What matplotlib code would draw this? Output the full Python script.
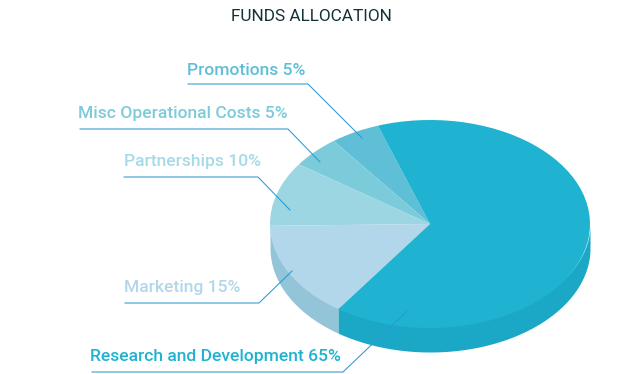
import numpy as np
import matplotlib
matplotlib.use('Agg')
from matplotlib import pyplot as plt

categories = ['Promotions', 'Misc Operational Costs', 'Partnerships', 'Marketing', 'Research and Development']
shares = [5, 5, 10, 15, 65]
top_colors = ['#5FBFD6', '#7CCBDB', '#9CD6E3', '#B2D7EA', '#1FB3D1']
side_colors = ['#4FA9BF', '#6AB3C4', '#86BDCB', '#94C4D8', '#1BA8C6']
text_colors = ['#5FBFD6', '#7CCBDB', '#A5DBE7', '#B2D7EA', '#1FB3D1']

# pie geometry in pixels
cx, cy, rx, ry, depth = 430, 224, 160, 104, 24
W, H = 619, 374


def px(x, y):
    """Pixel position in the picture -> data coords of the unit pie."""
    return (x - cx) / rx, (cy - y) / ry


plt.rcParams['font.family'] = ['Roboto', 'DejaVu Sans']
fig = plt.figure(figsize=(W / 100, H / 100), dpi=100)
ax = fig.add_axes([0, 0, 1, 1])

start = 109
ax.pie(shares, colors=top_colors, startangle=start, radius=1,
       wedgeprops={'linewidth': 0, 'zorder': 3})
ax.set_aspect('auto')
ax.set_xlim(px(0, 0)[0], px(W, 0)[0])
ax.set_ylim(px(0, H)[1], px(0, 0)[1])
ax.axis('off')

# side wall, only the part of each slice that faces the viewer
# top edge runs a bit under the pie so no white seam shows
edges = start + np.cumsum([0] + shares) * 3.6
d = depth / ry
for i in range(len(shares)):
    a, b = max(edges[i], 180), min(edges[i + 1], 360)
    if b <= a:
        continue
    t = np.radians(np.linspace(a, b, 120))
    ax.fill_between(np.cos(t), np.sin(t) - d, np.sin(t) * 0.97, color=side_colors[i], lw=0, zorder=2)

# labels with their leader lines
text_pos = [(187, 75), (78, 118), (124, 166), (124, 292), (90, 360.5)]
leaders = [
    [(188, 84), (308, 84), (362, 138)],
    [(80, 129), (288, 129), (320, 162)],
    [(124, 177), (258, 177), (290, 210)],
    [(125, 303), (259, 303), (292, 271)],
    [(92, 372), (343, 372), (407, 311)],
]
for name, val, col, tp, pts in zip(categories, shares, text_colors, text_pos, leaders):
    x, y = px(*tp)
    ax.text(x, y, f'{name} {val}%', color=col, fontsize=12.6, fontweight='medium',
            ha='left', va='baseline', zorder=5)
    xy = np.array([px(*p) for p in pts])
    ax.plot(xy[:, 0], xy[:, 1], color='#2A9AD0', lw=0.75, zorder=4)

x, y = px(311, 21)
ax.text(x, y, 'FUNDS ALLOCATION', color='#14303A', fontsize=12.4, ha='center', va='baseline')

fig.savefig('out.png', dpi=100)
